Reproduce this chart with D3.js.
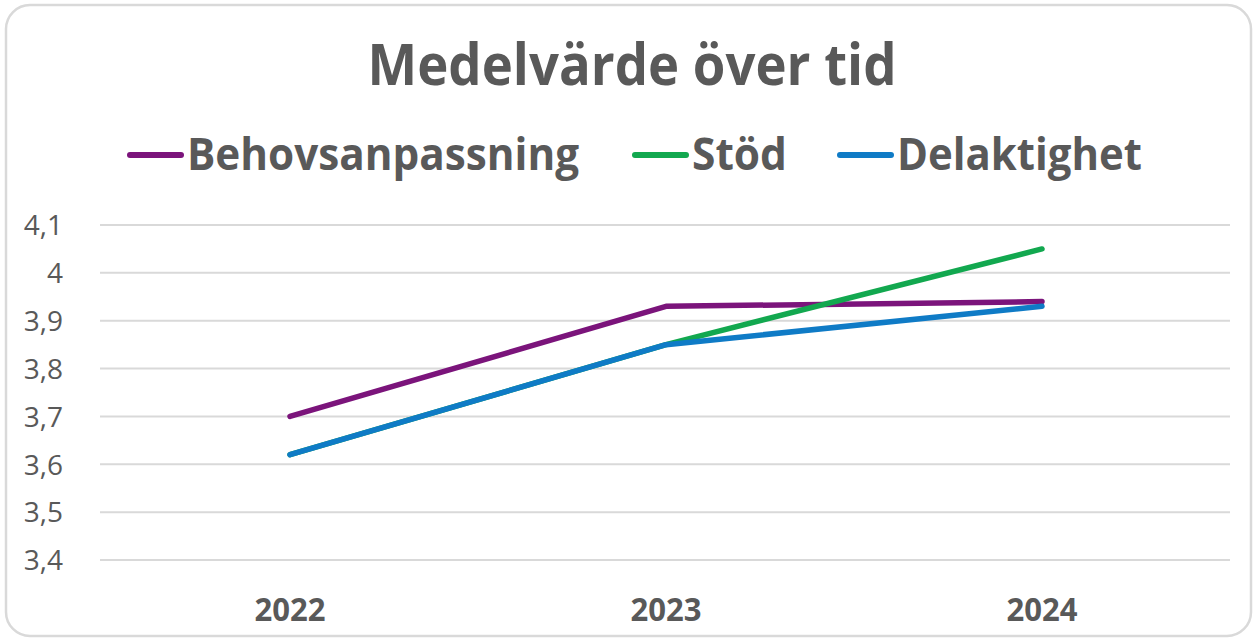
<!DOCTYPE html>
<html><head><meta charset="utf-8">
<script src="https://cdn.jsdelivr.net/npm/d3@7"></script>
<style>html,body{margin:0;padding:0;background:#fff}svg{display:block}</style>
</head><body>
<script>
const categories = ["2022", "2023", "2024"];
const seriesNames = ["Behovsanpassning", "Stöd", "Delaktighet"];
const behovsanpassning = [3.70, 3.93, 3.94];
const stod = [3.62, 3.85, 4.05];
const delaktighet = [3.62, 3.85, 3.93];
const yTicks = [3.4, 3.5, 3.6, 3.7, 3.8, 3.9, 4.0, 4.1];
const colors = ["#7B147B", "#12A84F", "#0F7BC6"];
const title = "Medelvärde över tid";

const W = 1258, H = 641;
const svg = d3.select("body").append("svg").attr("width", W).attr("height", H);
svg.append("rect").attr("x", 6).attr("y", 5).attr("width", 1245).attr("height", 631)
  .attr("rx", 24).attr("fill", "#fff").attr("stroke", "#d9d9d9").attr("stroke-width", 2.5);

const txt = "#595959";
svg.append("text").attr("x", 632).attr("y", 85).attr("text-anchor", "middle")
  .attr("font-family", "Open Sans").attr("font-weight", 700).attr("font-size", 58)
  .attr("fill", txt).attr("textLength", 529).attr("lengthAdjust", "spacingAndGlyphs").text(title);

const x = d3.scaleBand().domain(categories).range([102, 1230]);
const y = d3.scaleLinear().domain([3.4, 4.1]).range([560, 225]);

// grid
svg.append("g").selectAll("line").data(yTicks).join("line")
  .attr("x1", 100).attr("x2", 1230).attr("y1", d => y(d)).attr("y2", d => y(d))
  .attr("stroke", "#d9d9d9").attr("stroke-width", 2);

// y axis
const yAxis = d3.axisLeft(y).tickValues(yTicks).tickSize(0).tickPadding(0)
  .tickFormat(d => d3.format("~g")(+d.toFixed(1)).replace(".", ","));
const yg = svg.append("g").attr("transform", "translate(63,0)").call(yAxis);
yg.select(".domain").remove();
yg.selectAll("text").attr("font-family", "Open Sans").attr("font-size", 28)
  .attr("fill", txt).attr("dy", "0.35em");

// x axis
const xAxis = d3.axisBottom(x).tickSize(0).tickPadding(0);
const xg = svg.append("g").attr("transform", "translate(0,597)").call(xAxis);
xg.select(".domain").remove();
xg.selectAll("text").attr("font-family", "Open Sans").attr("font-weight", 700)
  .attr("font-size", 33).attr("fill", txt).attr("dy", "0.72em")
  .attr("textLength", 71).attr("lengthAdjust", "spacingAndGlyphs");

const series = [behovsanpassning, stod, delaktighet];
const line = d3.line().x((d, i) => x(categories[i]) + x.bandwidth() / 2).y(d => y(d));
// draw order: Behovsanpassning, Stöd, Delaktighet (blue on top)
svg.append("g").selectAll("path").data(series).join("path")
  .attr("d", d => line(d)).attr("fill", "none")
  .attr("stroke", (d, i) => colors[i]).attr("stroke-width", 5.5)
  .attr("stroke-linecap", "round").attr("stroke-linejoin", "round");

// legend
const legendX = [128, 633, 838];
const legendW = [392, 95, 245];
const lg = svg.append("g").selectAll("g").data(seriesNames).join("g")
  .attr("transform", (d, i) => `translate(${legendX[i]},155)`);
lg.append("line").attr("x1", 2).attr("x2", 53).attr("y1", 0).attr("y2", 0)
  .attr("stroke", (d, i) => colors[i]).attr("stroke-width", 6).attr("stroke-linecap", "round");
lg.append("text").attr("x", 59).attr("y", 15).attr("font-family", "Open Sans")
  .attr("font-weight", 700).attr("font-size", 44).attr("fill", txt)
  .attr("textLength", (d, i) => legendW[i]).attr("lengthAdjust", "spacingAndGlyphs")
  .text(d => d);
</script>
</body></html>
